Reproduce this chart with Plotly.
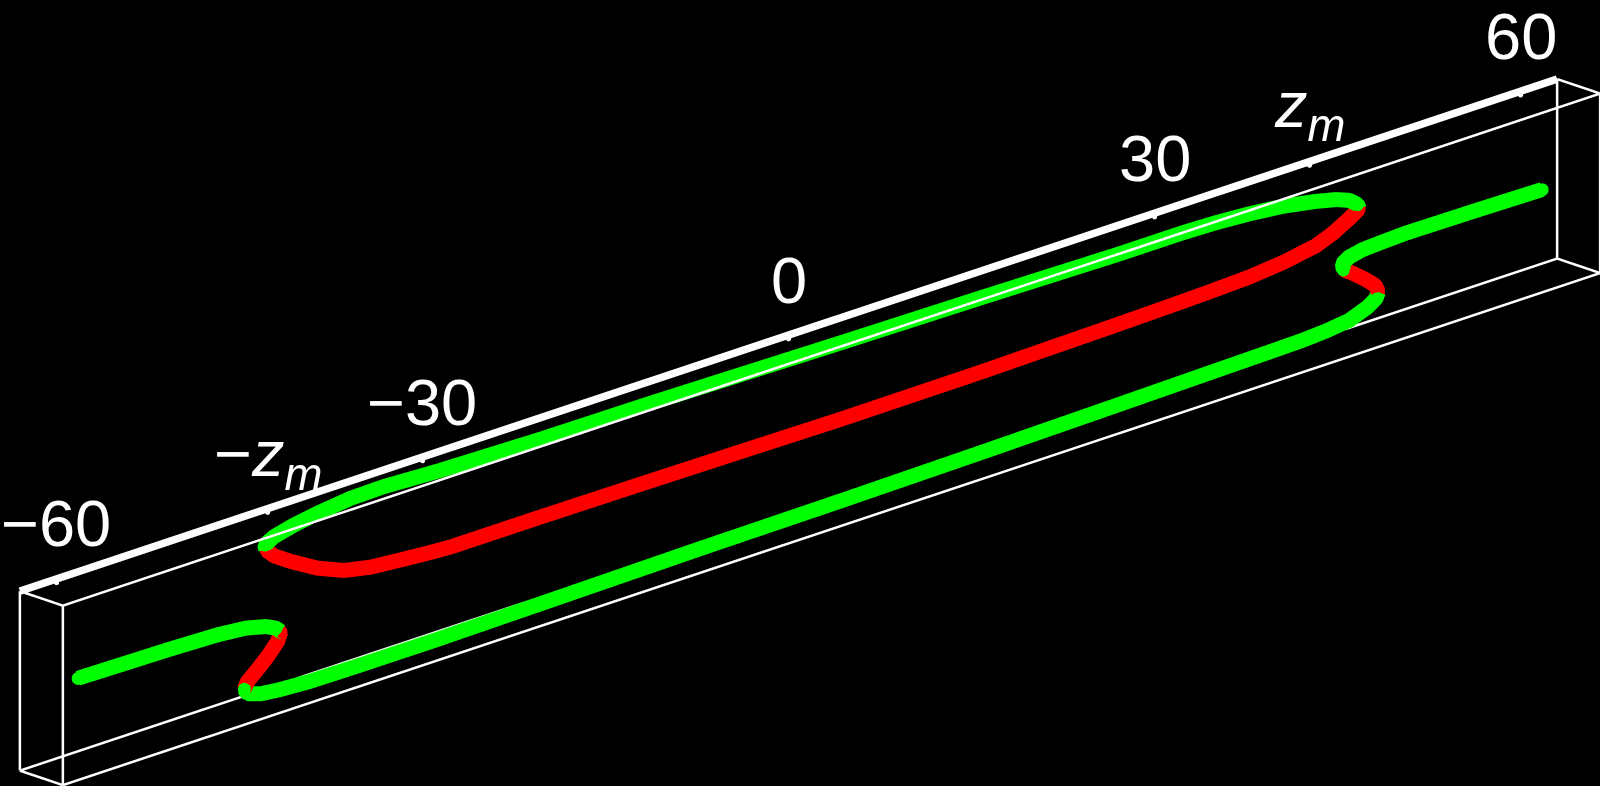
import plotly.graph_objects as go

# tube positions along the box (long axis) and height
string_z = [-60.0, -55.38, -52.64, -48.55, -46.24, -44.60, -43.78, -43.37,
            -43.37, -43.64, -44.46, -45.42, -46.10, -46.37,
            -46.37, -46.10, -45.01, -43.51, -41.06, -37.23, -30.28, -19.37, -8.45,
            2.45, 13.91, 25.37, 32.46, 37.64, 40.37, 42.28, 44.19, 45.69, 46.37, 46.59,
            46.59, 46.32, 45.56, 44.46, 43.70,
            43.70, 43.64, 44.19, 45.28, 46.64, 48.83, 54.28, 60.0]
string_y = [-0.14, -0.20, -0.23, -0.33, -0.50, -0.81, -1.12, -1.43,
            -1.43, -1.98, -2.70, -3.38, -3.83, -4.23,
            -4.23, -4.59, -4.86, -4.99, -5.10, -5.13, -5.13, -5.03, -4.93,
            -4.88, -4.78, -4.65, -4.56, -4.50, -4.46, -4.37, -4.19, -3.75, -3.40, -3.04,
            -3.04, -2.56, -2.02, -1.34, -0.94,
            -0.94, -0.55, -0.28, -0.10, -0.04, 0.03, -0.01, -0.08]
string_state = [1] * 8 + [0] * 6 + [1] * 20 + [0] * 5 + [1] * 8

loop_z = [-44.60, -44.68, -43.92, -42.28, -40.37, -37.64, -34.92, -32.73, -30.28, -22.0, -13.09, 2.45,
          13.91, 25.37, 27.82, 30.55, 33.28, 36.01, 38.73, 41.46, 43.10, 44.19, 44.87, 45.01,
          45.01, 44.19, 42.82, 41.46, 38.73, 36.01, 33.28, 30.55, 25.37, 13.91, 2.45,
          -5.73, -13.91, -22.09, -29.46, -31.5, -33.55, -36.01, -38.19, -40.37, -42.55, -43.92, -44.60]
loop_y = [3.92, 4.25, 4.57, 4.88, 5.12, 5.36, 5.40, 5.32, 5.24, 5.10, 5.06, 4.88,
          4.78, 4.64, 4.64, 4.64, 4.58, 4.44, 4.22, 3.84, 3.54, 3.22, 2.80, 2.50,
          2.50, 2.09, 1.51, 1.10, 0.74, 0.54, 0.46, 0.40, 0.32, 0.19, 0.16,
          0.22, 0.27, 0.30, 0.30, 0.40, 0.53, 0.70, 1.04, 1.73, 2.69, 3.38, 3.92]
loop_state = [1] * 24 + [0] * 23

tick_z = [-60, -42.7, -30, 0, 30, 42.7, 60]
tick_labels = ['\u221260', '\u2212<i>z</i><sub><i>m</i></sub>', '\u221230', '0', '30',
               '<i>z</i><sub><i>m</i></sub>', '60']
label_lift = [55, 50, 55, 55, 55, 52, 55]

box_z = [-63, 63]
box_x = [-1.77, 1.77]
box_y = [-5.54, 5.54]

# orthographic camera keeps its scale, so the aspect ratio sets the size on screen
scene_zoom = 5.515
scene_aspect = dict(x=scene_zoom, y=0.02815 * scene_zoom, z=0.0879 * scene_zoom)

# orthographic view, worked out from the box edges on screen
r1 = (0.7092, -0.7049, 0.0)
r2 = (0.2363, 0.2377, 0.9423)
view = (-0.6642, -0.6683, 0.3352)
eye_dist = 6
px_per_unit = 392
center = [(-10 * a + 39 * b) / px_per_unit for a, b in zip(r1, r2)]
eye = [c + eye_dist * v for c, v in zip(center, view)]

GREEN = 'rgb(0,255,0)'
RED = 'rgb(255,0,0)'

fig = go.Figure()

# box edges
edges = []
for bx in box_x:
    for by in box_y:
        edges.append(([box_z[0], box_z[1]], [bx, bx], [by, by]))
for bz in box_z:
    for by in box_y:
        edges.append(([bz, bz], [box_x[0], box_x[1]], [by, by]))
    for bx in box_x:
        edges.append(([bz, bz], [bx, bx], [box_y[0], box_y[1]]))
for ez, ex, ey in edges:
    fig.add_trace(go.Scatter3d(x=ez, y=ex, z=ey, mode='lines',
                               line=dict(color='white', width=5), hoverinfo='skip'))

# thick axis edge with its ticks
fig.add_trace(go.Scatter3d(x=box_z, y=[box_x[1]] * 2, z=[box_y[1]] * 2, mode='lines',
                           line=dict(color='white', width=15), hoverinfo='skip'))
fig.add_trace(go.Scatter3d(x=tick_z, y=[box_x[1]] * len(tick_z), z=[box_y[1] - 0.22] * len(tick_z),
                           mode='markers', marker=dict(color='white', size=3), hoverinfo='skip'))

# the two tubes, markers round off the joins
for tz, ty, state in [(string_z, string_y, string_state), (loop_z, loop_y, loop_state)]:
    colors = [GREEN if s else RED for s in state]
    fig.add_trace(go.Scatter3d(x=tz, y=[0] * len(tz), z=ty, mode='lines+markers',
                               line=dict(color=colors, width=30),
                               marker=dict(color=colors, size=7.5, line=dict(width=0)),
                               hoverinfo='skip'))

annotations = [dict(x=tz, y=box_x[1], z=box_y[1], text=label, showarrow=False,
                    xanchor='center', yanchor='middle', yshift=lift,
                    font=dict(family='Liberation Sans', size=65, color='white'))
               for tz, label, lift in zip(tick_z, tick_labels, label_lift)]

axis_style = dict(visible=False)
fig.update_layout(
    width=1600, height=786,
    margin=dict(l=0, r=0, t=0, b=0),
    paper_bgcolor='black',
    showlegend=False,
    scene=dict(
        domain=dict(x=[0, 1], y=[0, 1]),
        bgcolor='black',
        aspectmode='manual',
        aspectratio=scene_aspect,
        xaxis=dict(range=box_z, **axis_style),
        yaxis=dict(range=box_x, **axis_style),
        zaxis=dict(range=box_y, **axis_style),
        camera=dict(
            projection=dict(type='orthographic'),
            up=dict(x=0, y=0, z=1),
            center=dict(x=center[0], y=center[1], z=center[2]),
            eye=dict(x=eye[0], y=eye[1], z=eye[2]),
        ),
        annotations=annotations,
    ),
)

# page margin would otherwise show round the black figure
fig.write_html("out.html", config=dict(displayModeBar=False),
               post_script="document.body.style.margin='0';document.body.style.overflow='hidden';document.body.style.background='black';")
